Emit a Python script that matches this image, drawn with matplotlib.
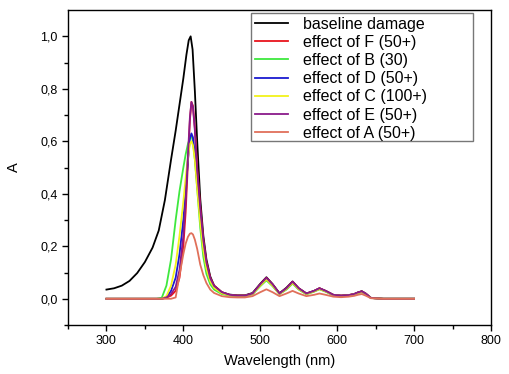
import matplotlib
matplotlib.use("Agg")
import matplotlib.pyplot as plt
import matplotlib.ticker as ticker
from matplotlib.patches import Rectangle

plt.rcParams['font.family'] = ['Liberation Sans', 'DejaVu Sans']

# wavelength grid for the baseline curve
wl_base = [300, 310, 320, 330, 340, 350, 360, 368, 376, 384, 390, 395, 400, 404,
           407, 409.5, 412, 415, 418, 422, 426, 430, 435, 440, 450, 460, 470, 480,
           490, 500, 508, 516, 525, 534, 542, 550, 560, 570, 577, 585, 595, 605,
           615, 622, 627, 632, 637, 644, 660, 700]
baseline = [0.035, 0.040, 0.050, 0.068, 0.098, 0.140, 0.195, 0.260, 0.376, 0.530,
            0.640, 0.740, 0.840, 0.930, 0.985, 1.000, 0.950, 0.790, 0.600, 0.380,
            0.240, 0.150, 0.085, 0.050, 0.025, 0.016, 0.013, 0.013, 0.022, 0.057,
            0.082, 0.056, 0.021, 0.042, 0.066, 0.040, 0.020, 0.030, 0.040, 0.030,
            0.015, 0.012, 0.014, 0.018, 0.024, 0.029, 0.020, 0.003, 0.0, 0.0]

# wavelength grid for the treated samples
wl = [300, 340, 365, 372, 378, 384, 390, 395, 400, 403, 406, 408.5, 410.5, 412.5,
      415, 418, 422, 426, 430, 435, 440, 450, 460, 470, 480, 490, 500, 508, 516,
      525, 534, 542, 550, 560, 570, 577, 585, 595, 605, 615, 622, 627, 632, 637,
      644, 660, 700]

eff_F = [0.0, 0.0, 0.0, 0.0, 0.004, 0.012, 0.030, 0.080, 0.200, 0.330, 0.520,
         0.680, 0.750, 0.735, 0.650, 0.500, 0.350, 0.225, 0.140, 0.080, 0.050,
         0.025, 0.015, 0.012, 0.012, 0.020, 0.055, 0.080, 0.055, 0.020, 0.040,
         0.065, 0.040, 0.020, 0.030, 0.040, 0.030, 0.015, 0.012, 0.014, 0.018,
         0.024, 0.028, 0.020, 0.003, 0.0, 0.0]
eff_B = [0.0, 0.0, 0.0, 0.004, 0.050, 0.150, 0.300, 0.410, 0.500, 0.550, 0.590,
         0.612, 0.620, 0.600, 0.530, 0.420, 0.270, 0.160, 0.095, 0.055, 0.035,
         0.018, 0.012, 0.010, 0.010, 0.017, 0.048, 0.070, 0.048, 0.018, 0.035,
         0.058, 0.035, 0.017, 0.027, 0.036, 0.027, 0.013, 0.010, 0.012, 0.016,
         0.021, 0.025, 0.018, 0.003, 0.0, 0.0]
eff_D = [0.0, 0.0, 0.0, 0.0, 0.006, 0.030, 0.080, 0.170, 0.300, 0.410, 0.530,
         0.610, 0.630, 0.615, 0.550, 0.440, 0.310, 0.200, 0.125, 0.072, 0.045,
         0.023, 0.014, 0.011, 0.011, 0.019, 0.052, 0.076, 0.052, 0.019, 0.038,
         0.062, 0.038, 0.019, 0.029, 0.038, 0.029, 0.014, 0.011, 0.013, 0.017,
         0.023, 0.027, 0.019, 0.003, 0.0, 0.0]
eff_C = [0.0, 0.0, 0.0, 0.0, 0.010, 0.050, 0.130, 0.240, 0.370, 0.460, 0.540,
         0.590, 0.600, 0.585, 0.530, 0.420, 0.290, 0.185, 0.115, 0.066, 0.042,
         0.021, 0.013, 0.011, 0.011, 0.018, 0.050, 0.074, 0.050, 0.018, 0.037,
         0.060, 0.037, 0.018, 0.028, 0.037, 0.028, 0.014, 0.011, 0.013, 0.017,
         0.022, 0.026, 0.019, 0.003, 0.0, 0.0]
eff_E = [0.0, 0.0, 0.0, 0.0, 0.005, 0.018, 0.045, 0.110, 0.240, 0.370, 0.550,
         0.690, 0.750, 0.730, 0.640, 0.490, 0.345, 0.222, 0.138, 0.078, 0.049,
         0.025, 0.015, 0.012, 0.012, 0.020, 0.055, 0.080, 0.055, 0.020, 0.040,
         0.065, 0.040, 0.020, 0.030, 0.040, 0.030, 0.015, 0.012, 0.014, 0.018,
         0.024, 0.028, 0.020, 0.003, 0.0, 0.0]
eff_A = [0.0, 0.0, 0.0, 0.0, 0.0, 0.0, 0.005, 0.090, 0.170, 0.210, 0.236, 0.248,
         0.250, 0.245, 0.225, 0.190, 0.130, 0.090, 0.060, 0.035, 0.022, 0.010,
         0.006, 0.005, 0.005, 0.010, 0.025, 0.036, 0.025, 0.010, 0.020, 0.030,
         0.020, 0.010, 0.015, 0.020, 0.015, 0.008, 0.006, 0.008, 0.011, 0.015,
         0.018, 0.012, 0.002, 0.0, 0.0]

labels = ["baseline damage", "effect of F (50+)", "effect of B (30)",
          "effect of D (50+)", "effect of C (100+)", "effect of E (50+)",
          "effect of A (50+)"]
colors = ["black", "#e8141c", "#3ee83e", "#1a1ad0", "#f2f21a", "#8a1a8a", "#e0705a"]

fig = plt.figure(figsize=(5.10, 3.74), dpi=100)
ax = fig.add_axes([0.1333, 0.131, 0.8294, 0.842])

series = [(wl_base, baseline)] + [(wl, s) for s in (eff_F, eff_B, eff_D, eff_C, eff_E, eff_A)]
handles = []
for (x, y), lab, c in zip(series, labels, colors):
    h, = ax.plot(x, y, color=c, lw=1.3, label=lab)
    handles.append(h)

ax.set_xlim(250, 800)
ax.set_ylim(-0.1, 1.1)
ax.xaxis.set_major_locator(ticker.MultipleLocator(100))
ax.xaxis.set_minor_locator(ticker.MultipleLocator(50))
ax.yaxis.set_major_locator(ticker.FixedLocator([0, 0.2, 0.4, 0.6, 0.8, 1.0]))
ax.yaxis.set_minor_locator(ticker.FixedLocator([-0.1, 0.1, 0.3, 0.5, 0.7, 0.9]))
ax.yaxis.set_major_formatter(ticker.FuncFormatter(lambda v, p: f"{v:.1f}".replace(".", ",")))
ax.xaxis.set_major_formatter(ticker.FuncFormatter(lambda v, p: "" if v < 300 else f"{v:.0f}"))
ax.tick_params(which="both", direction="out", labelsize=9, width=1)
ax.tick_params(which="major", length=4)
ax.tick_params(which="minor", length=3)
for s in ax.spines.values():
    s.set_linewidth(1.0)

ax.set_xlabel("Wavelength (nm)", fontsize=10.5, labelpad=5)
ax.set_ylabel("A", fontsize=10.5, labelpad=14)

leg = fig.legend(handles=handles, loc="upper left", bbox_to_anchor=(253 / 510, 1 - 15 / 374),
                 frameon=False, fontsize=11.5, handlelength=2.1, handletextpad=0.9,
                 labelspacing=0.2, borderpad=0.1, borderaxespad=0)
fig.patches.append(Rectangle((251 / 510, 1 - 141 / 374), 222 / 510, 128 / 374,
                             transform=fig.transFigure, fill=False, edgecolor="#777777",
                             linewidth=1.0))

plt.savefig("out.png", dpi=100)
